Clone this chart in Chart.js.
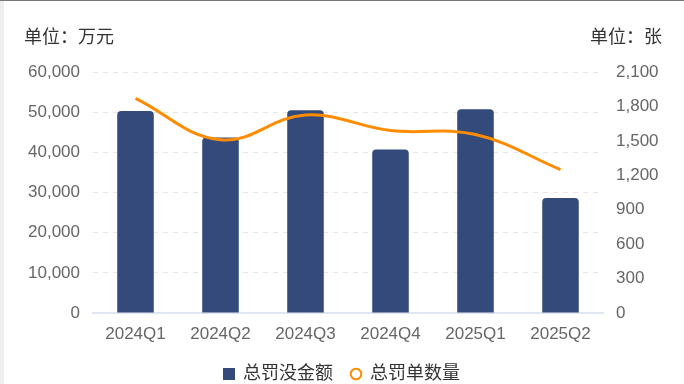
<!DOCTYPE html>
<html>
<head>
<meta charset="utf-8">
<script src="https://cdn.jsdelivr.net/npm/chart.js@4/dist/chart.umd.min.js"></script>
<style>
  html, body { margin: 0; padding: 0; background: #fff; }
  #wrap { position: relative; width: 684px; height: 384px; overflow: hidden; }
  #edgeTop { position: absolute; left: 0; top: 0; width: 684px; height: 1px; background: #777; }
  #edgeLeft { position: absolute; left: 0; top: 1px; width: 4px; height: 383px; background: #eeeeee; }
</style>
</head>
<body>
<div id="wrap">
  <canvas id="c" width="684" height="384"></canvas>
  <div id="edgeTop"></div>
  <div id="edgeLeft"></div>
</div>
<script>
const categories = ['2024Q1', '2024Q2', '2024Q3', '2024Q4', '2025Q1', '2025Q2'];
const fineAmount = [50300, 43700, 50500, 40700, 50700, 28600];   // 总罚没金额, 万元
const ticketCount = [1870, 1510, 1725, 1590, 1555, 1250];       // 总罚单数量, 张
const leftTicks = [0, 10000, 20000, 30000, 40000, 50000, 60000];
const rightTicks = [0, 300, 600, 900, 1200, 1500, 1800, 2100];

const barColor = '#334a7a';
const lineColor = '#ff8c00';
const font = '"Liberation Sans", Arial, "Noto Sans CJK SC", sans-serif';

// legend markers: filled square, hollow circle
function marker(kind) {
    const c = document.createElement('canvas');
    c.width = 14;
    c.height = 14;
    const g = c.getContext('2d');
    if (kind === 'rect') {
        g.fillStyle = barColor;
        g.fillRect(1, 1, 12, 12);
    } else {
        g.beginPath();
        g.arc(7, 7, 5.3, 0, Math.PI * 2);
        g.fillStyle = '#fff';
        g.fill();
        g.lineWidth = 2;
        g.strokeStyle = lineColor;
        g.stroke();
    }
    return c;
}

const unitTitles = {
    id: 'unitTitles',
    afterDraw(chart) {
        const ctx = chart.ctx;
        ctx.save();
        ctx.font = '18px ' + font;
        ctx.fillStyle = '#333';
        ctx.textBaseline = 'middle';
        ctx.textAlign = 'left';
        ctx.fillText('单位：万元', 24, 38);
        ctx.textAlign = 'right';
        ctx.fillText('单位：张', 662, 38);
        ctx.restore();
    }
};

new Chart(document.getElementById('c').getContext('2d'), {
    data: {
        labels: categories,
        datasets: [
            {
                type: 'bar',
                label: '总罚没金额',
                data: fineAmount,
                yAxisID: 'y',
                backgroundColor: barColor,
                borderRadius: { topLeft: 4, topRight: 4 },
                borderSkipped: 'bottom',
                categoryPercentage: 1,
                barPercentage: 0.43,
                order: 1
            },
            {
                type: 'line',
                label: '总罚单数量',
                data: ticketCount,
                yAxisID: 'y1',
                borderColor: lineColor,
                backgroundColor: '#fff',
                borderWidth: 3,
                tension: 0.4,
                pointRadius: 0,
                order: 0
            }
        ]
    },
    options: {
        responsive: false,
        animation: false,
        layout: { padding: { top: 72, left: 0, right: 0, bottom: -9 } },
        plugins: {
            tooltip: { enabled: false },
            legend: {
                position: 'bottom',
                labels: {
                    font: { family: font, size: 18 },
                    color: '#333',
                    usePointStyle: true,
                    boxWidth: 10,
                    boxHeight: 12,
                    padding: 3,
                    generateLabels(chart) {
                        return chart.data.datasets.map((ds, i) => ({
                            text: i === 0 ? ds.label + '   ' : ds.label,
                            datasetIndex: i,
                            fillStyle: i === 0 ? barColor : '#fff',
                            strokeStyle: i === 0 ? barColor : lineColor,
                            lineWidth: 0,
                            pointStyle: marker(i === 0 ? 'rect' : 'circle'),
                            fontColor: '#333',
                            hidden: false
                        }));
                    }
                }
            }
        },
        scales: {
            x: {
                afterFit(scale) { scale.height = 49; },
                grid: { display: false, drawTicks: false },
                border: { display: true, color: '#e0e6f1', width: 2 },
                ticks: { font: { family: font, size: 17 }, color: '#666', padding: 11 }
            },
            y: {
                position: 'left',
                min: 0,
                max: 60000,
                afterBuildTicks(scale) { scale.ticks = leftTicks.map(v => ({ value: v })); },
                afterFit(scale) { scale.width = 93; },
                grid: { color: '#e6e6e6', drawTicks: false },
                border: { display: false, dash: [5, 5] },
                ticks: {
                    font: { family: font, size: 17 },
                    color: '#666',
                    padding: 13,
                    callback: v => v.toLocaleString('en-US')
                }
            },
            y1: {
                position: 'right',
                min: 0,
                max: 2100,
                afterBuildTicks(scale) { scale.ticks = rightTicks.map(v => ({ value: v })); },
                afterFit(scale) { scale.width = 81; },
                grid: { drawOnChartArea: false, drawTicks: false },
                border: { display: false },
                ticks: {
                    font: { family: font, size: 17 },
                    color: '#666',
                    padding: 13,
                    callback: v => v.toLocaleString('en-US')
                }
            }
        }
    },
    plugins: [unitTitles]
});
</script>
</body>
</html>
